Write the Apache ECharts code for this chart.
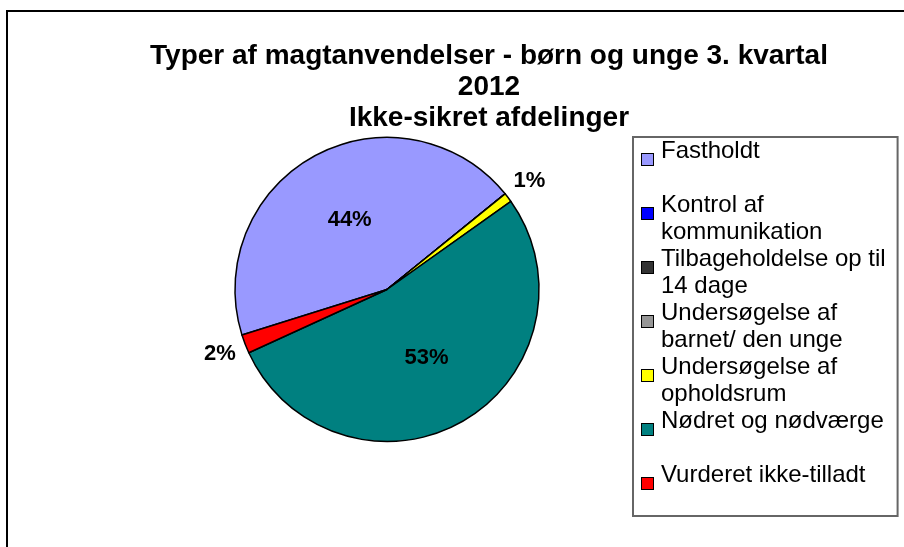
<!DOCTYPE html>
<html>
<head>
<meta charset="utf-8">
<script src="https://cdn.jsdelivr.net/npm/echarts@6/dist/echarts.min.js"></script>
<style>
  html, body { margin: 0; padding: 0; background: #fff; }
  #main { width: 904px; height: 547px; }
</style>
</head>
<body>
<div id="main"></div>
<script>
  // legend wraps the same way as in the original sheet
  var categories = ['Fastholdt', 'Kontrol af\nkommunikation', 'Tilbageholdelse op til\n14 dage',
    'Undersøgelse af\nbarnet/ den unge', 'Undersøgelse af\nopholdsrum', 'Nødret og nødværge',
    'Vurderet ikke-tilladt'];
  var shares = [44, 0, 0, 0, 1, 53, 2];
  var colors = ['#9999FF', '#0000FF', '#333333', '#969696', '#FFFF00', '#008080', '#FF0000'];

  var font = 'Liberation Sans, Arial, sans-serif';

  var rich = {
    t: { fontFamily: font, fontSize: 24, lineHeight: 27, color: '#000', padding: [0, 0, 0, 8] },
    ind: { width: 11, height: 11 }
  };
  colors.forEach(function (c, i) {
    rich['s' + i] = { width: 11, height: 11, backgroundColor: c, borderColor: '#000', borderWidth: 1, verticalAlign: 'bottom' };
  });

  var myChart = echarts.init(document.getElementById('main'));

  var option = {
    backgroundColor: '#fff',
    animation: false,
    title: {
      text: 'Typer af magtanvendelser - børn og unge 3. kvartal\n2012\nIkke-sikret afdelinger',
      left: 489,
      top: 40.5,
      padding: 0,
      textAlign: 'center',
      textStyle: { fontFamily: font, fontSize: 28, fontWeight: 'bold', lineHeight: 31, color: '#000' }
    },
    legend: {
      orient: 'vertical',
      left: 633,
      top: 137,
      padding: [1, 12, 0, 4],
      itemGap: 0,
      itemWidth: 0,
      icon: 'none',
      selectedMode: false,
      borderColor: '#666',
      borderWidth: 2,
      data: categories,
      textStyle: { fontFamily: font, fontSize: 24, lineHeight: 27, rich: rich },
      formatter: function (name) {
        var i = categories.indexOf(name);
        var lines = name.split('\n');
        return '{s' + i + '|}{t|' + lines[0] + '}\n{ind|}{t|' + (lines[1] || ' ') + '}';
      }
    },
    graphic: [{
      type: 'rect',
      shape: { x: 7, y: 11, width: 1000, height: 1000 },
      style: { fill: 'none', stroke: '#000', lineWidth: 2 },
      silent: true
    }],
    series: [{
      type: 'pie',
      center: [387, 289.5],
      radius: 152,
      startAngle: 197.4,
      clockwise: true,
      avoidLabelOverlap: false,
      silent: true,
      itemStyle: { borderColor: '#000', borderWidth: 1.5 },
      label: {
        fontFamily: font,
        fontSize: 22,
        fontWeight: 'bold',
        color: '#000',
        distanceToLabelLine: -16,
        formatter: function (p) {
          return p.value > 0 ? Math.round(p.percent) + '%' : '';
        }
      },
      labelLine: { show: false, length: 27, length2: 0 },
      data: categories.map(function (name, i) {
        return {
          name: name,
          value: shares[i],
          itemStyle: { color: colors[i] },
          label: { position: shares[i] < 5 ? 'outside' : 'inside' }
        };
      })
    }]
  };

  myChart.setOption(option);
</script>
</body>
</html>
